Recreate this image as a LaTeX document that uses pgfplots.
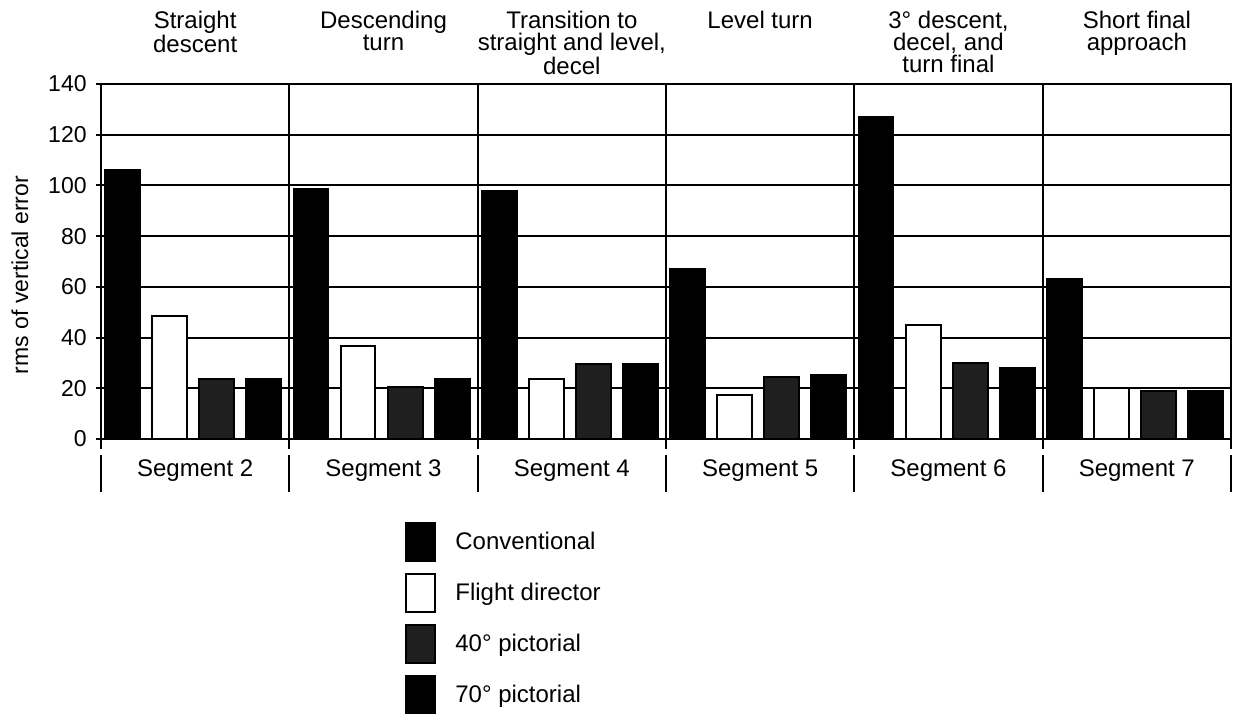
\documentclass[border=0pt]{standalone}
\usepackage{fontspec}
\setmainfont{Liberation Sans}
\usepackage{pgfplots}
\pgfplotsset{compat=1.18}
\begin{document}
\begin{tikzpicture}
\useasboundingbox (0,0) rectangle (619pt,-356.5pt);
\begin{axis}[
  at={(50.5pt,-219.5pt)}, anchor=south west,
  scale only axis, width=565pt, height=177.5pt,
  xmin=0, xmax=6, ymin=0, ymax=140,
  xtick={0,1,2,3,4,5,6}, xticklabels={},
  ytick={0,20,...,140},
  tick pos=left,
  tick align=center,
  major tick length=5pt,
  xmajorgrids, ymajorgrids,
  grid style={black, line width=1pt},
  axis line style={line width=1pt},
  every tick/.style={black, line width=1pt},
  /pgf/number format/assume math mode=true,
  tick label style={font=\fontsize{11.5}{13}\selectfont},
  yticklabel style={inner sep=0pt, xshift=-4.5pt},
  ylabel={rms of vertical error},
  ylabel style={at={(axis description cs:-0.0717,0.462)}, anchor=center, font=\fontsize{11.5}{13}\selectfont},
  clip=false,
  ybar, bar shift=0pt, bar width=0.185,
  legend image code/.code={\draw[#1, line width=1pt] (0pt,-9.5pt) rectangle (14.5pt,9.5pt); \path (24pt,0pt);},
  legend style={at={(axis description cs:0.269,-0.234)}, anchor=north west,
    draw=none, fill=none, inner sep=0pt, row sep=5.5pt, column sep=0pt,
    font=\fontsize{12}{13}\selectfont,
    nodes={inner sep=0pt}},
  legend cell align=left,
]
\addplot[draw=black, fill=black, line width=1pt] coordinates {
  (0.115,106.1) (1.115,98.5) (2.115,97.8) (3.115,67.1) (4.115,127.0) (5.115,63.1)};
\addlegendentry{Conventional}
\addplot[draw=black, fill=white, line width=1pt] coordinates {
  (0.365,48.4) (1.365,36.7) (2.365,23.8) (3.365,17.3) (4.365,44.9) (5.365,20.1)};
\addlegendentry{Flight director}
\addplot[draw=black, fill=black!88, line width=1pt] coordinates {
  (0.615,23.8) (1.615,20.7) (2.615,29.4) (3.615,24.6) (4.615,30.1) (5.615,18.9)};
\addlegendentry{40° pictorial}
\addplot[draw=black, fill=black, line width=1pt] coordinates {
  (0.865,23.8) (1.865,23.5) (2.865,29.4) (3.865,25.3) (4.865,28.1) (5.865,18.9)};
\addlegendentry{70° pictorial}

\pgfplotsinvokeforeach{0,1,2,3,4,5,6}{
  \draw[black, line width=1pt] (axis cs:#1,0) ++(0,-8pt) -- ++(0,-18.5pt);
}
\begin{scope}[every node/.style={font=\fontsize{12}{11}\selectfont, inner sep=0pt, align=center}]
\node[anchor=base] at ([yshift=-18.5pt]axis cs:0.5,0) {Segment 2};
\node[anchor=base] at ([yshift=-18.5pt]axis cs:1.5,0) {Segment 3};
\node[anchor=base] at ([yshift=-18.5pt]axis cs:2.5,0) {Segment 4};
\node[anchor=base] at ([yshift=-18.5pt]axis cs:3.5,0) {Segment 5};
\node[anchor=base] at ([yshift=-18.5pt]axis cs:4.5,0) {Segment 6};
\node[anchor=base] at ([yshift=-18.5pt]axis cs:5.5,0) {Segment 7};
\node[anchor=north] at ([yshift=36.7pt]axis cs:0.5,140) {Straight\\descent};
\node[anchor=north] at ([yshift=36.7pt]axis cs:1.5,140) {Descending\\turn};
\node[anchor=north] at ([yshift=36.7pt]axis cs:2.5,140) {Transition to\\straight and level,\\decel};
\node[anchor=north] at ([yshift=36.7pt]axis cs:3.5,140) {Level turn};
\node[anchor=north] at ([yshift=36.7pt]axis cs:4.5,140) {3° descent,\\decel, and\\turn final};
\node[anchor=north] at ([yshift=36.7pt]axis cs:5.5,140) {Short final\\approach};
\end{scope}
\end{axis}
\end{tikzpicture}
\end{document}
